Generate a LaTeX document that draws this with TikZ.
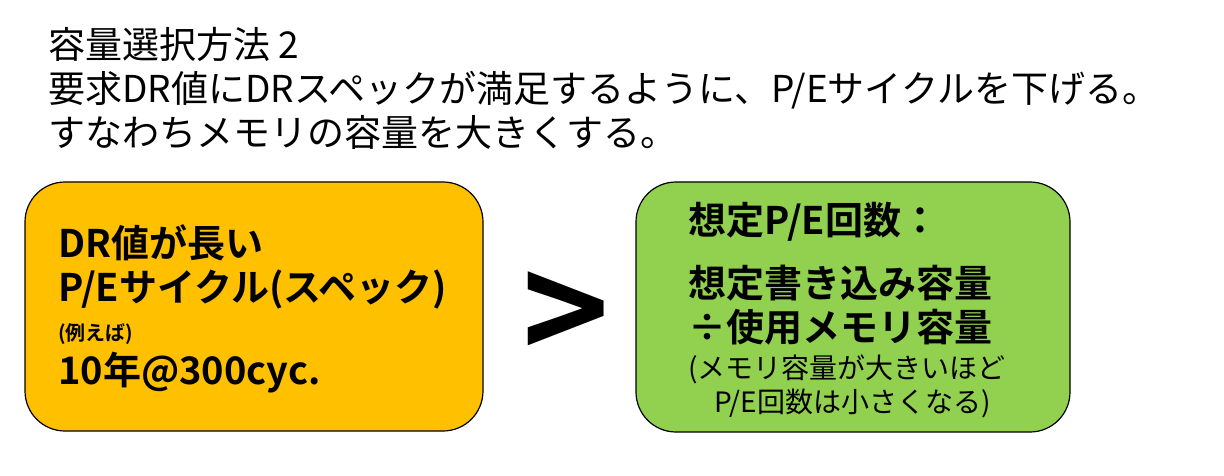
\documentclass[tikz,border=0pt]{standalone}
\usepackage{fontspec}
\setmainfont{Noto Sans CJK JP}[BoldFont={Noto Sans CJK JP Bold}]
\definecolor{specorange}{HTML}{FFC000}
\definecolor{pegreen}{HTML}{92D050}
\begin{document}
\begin{tikzpicture}[x=1pt,y=-1pt,
  box/.style={draw, line width=1.2pt, rounded corners=40pt, inner sep=0pt},
  head/.style={anchor=west, inner sep=0pt, font=\fontsize{37}{43}\selectfont},
  bigtxt/.style={anchor=west, inner sep=0pt, font=\fontsize{38}{40}\selectfont\bfseries},
  smalltxt/.style={anchor=west, inner sep=0pt, font=\fontsize{20}{22}\selectfont\bfseries},
  notetxt/.style={anchor=west, inner sep=0pt, font=\fontsize{28}{34}\selectfont}]
\useasboundingbox (0,0) rectangle (1224,476);
\draw (48,44) node[head] (t1) {容量選択方法 2};
\draw (48,90) node[head] (t2) {要求DR値にDRスペックが満足するように、P/Eサイクルを下げる。};
\draw (48,132) node[head] (t3) {すなわちメモリの容量を大きくする。};
\draw (254,306.5) node[box, fill=specorange, minimum width=458pt, minimum height=249pt] (spec) {};
\draw (853,307) node[box, fill=pegreen, minimum width=434pt, minimum height=250pt] (pe) {};
\draw (58,243) node[bigtxt] (s1) {DR値が長い};
\draw (58,290) node[bigtxt] (s2) {P/Eサイクル(スペック)};
\draw (58,334) node[smalltxt] (s3) {(例えば)};
\draw (58,373) node[bigtxt] (s4) {10年@300cyc.};
\draw (566,318) node[inner sep=0pt, font=\fontsize{148}{148}\selectfont\bfseries] (gt) {>};
\draw (688,222) node[bigtxt] (p1) {想定P/E回数：};
\draw (688,283) node[bigtxt] (p2) {想定書き込み容量};
\draw (688,327) node[bigtxt] (p3) {÷使用メモリ容量};
\draw (688,369) node[notetxt] (p4) {(メモリ容量が大きいほど};
\draw (714,403) node[notetxt] (p5) {P/E回数は小さくなる)};
\end{tikzpicture}
\end{document}
